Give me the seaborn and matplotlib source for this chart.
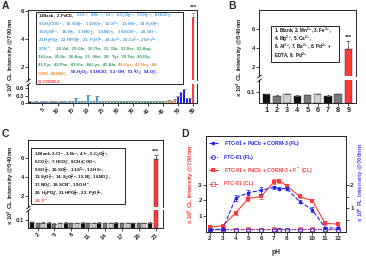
import matplotlib
matplotlib.use("Agg")
import matplotlib.pyplot as plt
import matplotlib.transforms as mtransforms
from matplotlib.patches import Rectangle
from matplotlib.lines import Line2D
import seaborn as sns
import pandas as pd
import numpy as np

sns.set_style("ticks")
plt.rcParams['font.family'] = ['Liberation Sans', 'DejaVu Sans']
plt.rcParams['font.weight'] = 'bold'
plt.rcParams['axes.labelweight'] = 'bold'
plt.rcParams['mathtext.fontset'] = 'custom'
plt.rcParams['mathtext.rm'] = 'Liberation Sans:bold'
plt.rcParams['mathtext.it'] = 'Liberation Sans:bold'
plt.rcParams['mathtext.bf'] = 'Liberation Sans:bold'
plt.rcParams['mathtext.default'] = 'rm'
plt.rcParams['axes.linewidth'] = 0.7
plt.rcParams['xtick.major.width'] = 0.6
plt.rcParams['ytick.major.width'] = 0.6
plt.rcParams['xtick.major.size'] = 2
plt.rcParams['ytick.major.size'] = 2
plt.rcParams['xtick.major.pad'] = 1
plt.rcParams['ytick.major.pad'] = 1

BLACK = '#111111'
DGRAY = '#555555'
MGRAY = '#7a7a7a'
LGRAY = '#cfcfcf'
LIGHT = '#3d9fe3'
GREEN = '#2a9e5a'
ORANGE = '#f28a2e'
BLUE = '#1f1ff0'
RED = '#ff3a3a'

# ---------------- data ----------------
# panel A: 55 analytes, x 10^3 CL intensity
a_values = [0.07, 0.06, 0.07, 0.06, 0.07, 0.07, 0.06, 0.07, 0.07, 0.06,
            0.07, 0.07, 0.06, 0.07, 0.07, 0.20, 0.07, 0.08, 0.07, 0.32,
            0.08, 0.07, 0.29, 0.08, 0.07, 0.08, 0.08, 0.09, 0.10, 0.10,
            0.09, 0.10, 0.10, 0.10, 0.09, 0.10, 0.10, 0.10, 0.09, 0.10,
            0.10, 0.10, 0.09, 0.10, 0.10, 0.08, 0.12, 0.10, 0.15, 0.29,
            0.45, 0.56, 0.21, 0.21, 5.55]
a_errors = [0.0] * 54 + [0.3]
a_groups = ['ctrl0', 'ctrl1'] + ['anion'] * 25 + ['amino'] * 18 + ['thiol'] * 4 + ['ros'] * 5 + ['corm']
a_ticks = [5, 10, 15, 20, 25, 30, 35, 40, 45, 50, 55]

# panel B: 9 metal ions
b_values = [0.078, 0.068, 0.078, 0.066, 0.072, 0.080, 0.068, 0.078, 3.85]
b_errors = [0.004, 0.004, 0.005, 0.003, 0.004, 0.005, 0.004, 0.004, 0.85]

# panel C: 23 anions
c_values = [0.070, 0.058, 0.064, 0.066, 0.055, 0.062, 0.064, 0.058, 0.060, 0.065,
            0.057, 0.062, 0.064, 0.058, 0.060, 0.065, 0.057, 0.060, 0.062, 0.058,
            0.061, 0.066, 5.9]
c_errors = [0.004] * 22 + [0.4]
c_ticks = [2, 5, 8, 11, 14, 17, 20, 23]

# panel D: pH profile
ph = [2, 3, 4, 5, 6, 7, 7.4, 8, 9, 10, 11, 12]
fl_probe = [0.10, 0.12, 1.43, 1.67, 1.77, 1.89, 1.84, 1.84, 1.29, 0.94, 0.18, 0.16]
fl_probe_err = [0.03, 0.03, 0.12, 0.12, 0.15, 0.08, 0.06, 0.06, 0.08, 0.10, 0.05, 0.05]
fl_blank = [0.08, 0.09, 0.10, 0.10, 0.10, 0.10, 0.10, 0.09, 0.10, 0.10, 0.10, 0.09]
cl_probe = [0.30, 0.40, 1.20, 2.12, 2.25, 3.18, 3.25, 2.93, 2.25, 1.98, 0.55, 0.50]
cl_probe_err = [0.05, 0.05, 0.10, 0.15, 0.15, 0.15, 0.12, 0.08, 0.10, 0.10, 0.12, 0.15]
cl_blank = [0.15, 0.16, 0.15, 0.16, 0.15, 0.16, 0.15, 0.15, 0.16, 0.18, 0.16, 0.15]

# legend texts
legend_a = [
    [("1.Blank,  2.PdCl$_2$,", BLACK),
     ("3.Cl$^-$,  4.Br$^-$,  5.I$^-$,  6.C$_2$O$_4^{2-}$,  7.CO$_3^{2-}$,  8.HCO$_3^-$,", LIGHT)],
    [("9.CH$_3$COO$^-$,  10.SO$_4^{2-}$,  11.SO$_3^-$,  12.S$^{2-}$,  13.HS$^-$,  14.S$_2$O$_3^{2-}$,", LIGHT)],
    [("15.S$_2$O$_7^{2-}$,   16.N$_3^-$,   17.NO$_2^-$,   18.NO$_3^-$,   19.SCN$^-$,   20.OH$^-$,", LIGHT)],
    [("21.H$_2$PO$_4^-$, 22.HPO$_4^{2-}$, 23. P$_2$O$_7^{4-}$, 24.Zn$^{2+}$, 25.Cu$^{2+}$, 26.Fe$^{2+}$,", LIGHT)],
    [("27.K$^+$,", LIGHT), ("  28.Val,  29.Gln,  30.Thr,  31. Glu,  32.Ser,  33.Asp,", GREEN)],
    [("34.Leu,  35.Ile,  36.Arg,  37.  Met,  38.  Tyr,  39.Trp,  40.Gly,", GREEN)],
    [("41.Pyr,  42.Phe,  43.His,  44.Lys,  45.Ala,", GREEN), ("46.Cys,  47.Hcy,  48.", ORANGE)],
    [("GSH,  49.NAC,", ORANGE), ("  50.H$_2$O$_2$,  51.HClO,  52.·OH,  53.$^1$O$_2$,  54.O$_2^-$,", BLUE)],
    [("55.CORM-3", RED)],
]
legend_b = [
    "1. Blank, 2. Mn$^{2+}$, 3. Fe$^{3+}$,",
    "4. Mg$^{2+}$, 5. Ca$^{2+}$,",
    "6. Al$^{3+}$, 7. Ba$^{2+}$, 8. Pd$^{2+}$ +",
    "EDTA, 9.  Pd$^{2+}$",
]
legend_c = [
    "1.Blank, 2.Cl$^-$, 3.Br$^-$, 4.I$^-$, 5.C$_2$O$_4^{2-}$,",
    "6.CO$_3^{2-}$, 7.HCO$_3^-$, 8.CH$_3$COO$^-$,",
    "9.SO$_4^{2-}$, 10.SO$_3^{2-}$, 11.S$^{2-}$, 12.HS$^-$,",
    "13.S$_2$O$_3^{2-}$, 14. S$_2$O$_7^{2-}$, 15.N$_3^-$, 16.NO$_2^-$,",
    "17.NO$_3^-$, 18.SCN$^-$, 19.OH$^-$,",
    "20. H$_2$PO$_4^-$, 21.HPO$_4^{2-}$, 22. P$_2$O$_7^{4-}$,",
    "23. F$^-$",
]

group_colors = {'ctrl0': BLACK, 'ctrl1': DGRAY, 'anion': LIGHT, 'amino': GREEN,
                'thiol': ORANGE, 'ros': BLUE, 'corm': RED}

W, H = 366, 257
fig = plt.figure(figsize=(W / 100, H / 100), dpi=100)


def rect(x0, y0, x1, y1):
    return [x0 / W, 1 - y1 / H, (x1 - x0) / W, (y1 - y0) / H]


def broken_bars(ax_top, ax_bot, values, errors, colors, edge, top_lim, bot_lim, xlim, err_color):
    ids = [str(i + 1) for i in range(len(values))]
    df = pd.DataFrame({'id': ids, 'value': values})
    pal = dict(zip(ids, colors))
    pos = np.arange(len(values))
    for ax in (ax_top, ax_bot):
        sns.barplot(data=df, x='id', y='value', hue='id', order=ids, hue_order=ids,
                    palette=pal, saturation=1, width=0.72, legend=False, errorbar=None,
                    edgecolor=edge, linewidth=0.3 if edge else 0, ax=ax)
        small = [e if e < 0.1 else 0 for e in errors]
        big = [e if e >= 0.1 else 0 for e in errors]
        ax.errorbar(pos, values, yerr=[np.zeros(len(pos)), small], fmt='none',
                    ecolor='k', elinewidth=0.4, capsize=0.8, capthick=0.4)
        ax.errorbar(pos, values, yerr=[np.zeros(len(pos)), big], fmt='none',
                    ecolor=err_color, elinewidth=0.6, capsize=1.2, capthick=0.6)
        ax.set_xlim(*xlim)
        ax.set_xlabel('')
        ax.set_ylabel('')
    ax_top.set_ylim(*top_lim)
    ax_bot.set_ylim(*bot_lim)
    ax_top.spines['bottom'].set_visible(False)
    ax_bot.spines['top'].set_visible(False)
    ax_top.tick_params(axis='x', bottom=False, labelbottom=False)
    kw = dict(marker=[(-1, -0.8), (1, 0.8)], markersize=3, linestyle='none',
              color='k', mec='k', mew=0.6, clip_on=False)
    ax_top.plot([0], [0], transform=ax_top.transAxes, **kw)
    ax_bot.plot([0], [1], transform=ax_bot.transAxes, **kw)


def text_lines(lines, x, y0, dy, fs):
    renderer = fig.canvas.get_renderer()
    for i, segs in enumerate(lines):
        if isinstance(segs, str):
            segs = [(segs, BLACK)]
        offset = 0.0
        for s, c in segs:
            tr = mtransforms.offset_copy(fig.transFigure, fig=fig, x=offset, y=0, units='dots')
            t = fig.text(x / W, 1 - (y0 + i * dy) / H, s, color=c, fontsize=fs,
                         fontweight='bold', va='baseline', ha='left', transform=tr)
            offset += t.get_window_extent(renderer=renderer).width + 1.3


def box(x0, y0, x1, y1):
    fig.add_artist(Rectangle((x0 / W, 1 - y1 / H), (x1 - x0) / W, (y1 - y0) / H,
                             transform=fig.transFigure, fill=False, lw=0.6, ec='k'))


# ---------------- panel A ----------------
ax_at = fig.add_axes(rect(28, 10, 197, 80))
ax_ab = fig.add_axes(rect(28, 84, 197, 103))
a_colors = [group_colors[g] for g in a_groups]
broken_bars(ax_at, ax_ab, a_values, a_errors, a_colors, None,
            (1.07, 6.07), (0, 0.76), (-0.8, 55.3), '#9a9a9a')
ax_at.set_yticks([2, 4, 6])
ax_ab.set_yticks([0, 0.3, 0.6])
ax_ab.set_yticklabels(['0', '0.3', '0.6'])
ax_ab.set_xticks([t - 1 for t in a_ticks])
ax_ab.set_xticklabels([str(t) for t in a_ticks], rotation=45, ha='right', rotation_mode='anchor')
for ax in (ax_at, ax_ab):
    ax.tick_params(labelsize=4.3)
ax_ab.tick_params(axis='x', labelsize=4.0)
ax_at.text(54, 6.1, '***', ha='center', va='bottom', fontsize=4.5, clip_on=False)
box(36, 12, 183, 84)
text_lines(legend_a, 38, 17.5, 8.15, 3.05)
fig.text(11 / W, 1 - 57 / H, 'x 10$^3$ CL Intensity @700nm', rotation=90,
         ha='center', va='center', fontsize=4.4)
fig.text(2 / W, 1 - 1 / H, 'A', fontsize=7.5, fontweight='bold', va='top', ha='left')

# ---------------- panel B ----------------
ax_bt = fig.add_axes(rect(259, 10, 356, 76))
ax_bb = fig.add_axes(rect(259, 80, 356, 103))
b_colors = [BLACK, MGRAY, LGRAY, BLACK, MGRAY, LGRAY, BLACK, MGRAY, RED]
broken_bars(ax_bt, ax_bb, b_values, b_errors, b_colors, '#222222',
            (1.05, 8.0), (0, 0.21), (-0.75, 8.75), '#555555')
ax_bt.set_yticks([2, 4, 6])
ax_bb.set_yticks([0.1])
ax_bb.set_yticklabels(['0.1'])
ax_bb.set_xticks(range(9))
ax_bb.set_xticklabels([str(i + 1) for i in range(9)])
ax_bt.tick_params(labelsize=4.3)
ax_bb.tick_params(axis='y', labelsize=4.3)
ax_bb.tick_params(axis='x', labelsize=5.2)
ax_bt.text(8, 4.85, '***', ha='center', va='bottom', fontsize=4.5)
box(271, 26, 339, 62)
text_lines(legend_b, 274, 33.0, 8.2, 3.3)
fig.text(240 / W, 1 - 57 / H, 'x 10$^3$ CL Intensity @540nm', rotation=90,
         ha='center', va='center', fontsize=4.4)
fig.text(228 / W, 1 - 1 / H, 'B', fontsize=7.5, fontweight='bold', va='top', ha='left')

# ---------------- panel C ----------------
ax_ct = fig.add_axes(rect(28, 140, 163, 207))
ax_cb = fig.add_axes(rect(28, 210, 163, 228))
c_colors = [[BLACK, MGRAY, LGRAY][i % 3] for i in range(22)] + [RED]
broken_bars(ax_ct, ax_cb, c_values, c_errors, c_colors, '#222222',
            (0.85, 7.9), (0, 0.22), (-0.7, 23.3), '#555555')
ax_ct.set_yticks([2, 4, 6])
ax_cb.set_yticks([0.1])
ax_cb.set_yticklabels(['0.1'])
ax_cb.set_xticks([t - 1 for t in c_ticks])
ax_cb.set_xticklabels([str(t) for t in c_ticks], rotation=45, ha='right', rotation_mode='anchor')
ax_ct.tick_params(labelsize=4.3)
ax_cb.tick_params(axis='y', labelsize=4.3)
ax_cb.tick_params(axis='x', labelsize=4.3)
ax_ct.text(22, 6.45, '***', ha='center', va='bottom', fontsize=4.5)
box(31, 148, 125, 204)
text_lines(legend_c[:-1] + [[(legend_c[-1], RED)]], 33.5, 156.2, 7.7, 3.2)
fig.text(11 / W, 1 - 185 / H, 'x 10$^3$ CL Intensity @540nm', rotation=90,
         ha='center', va='center', fontsize=4.4)
fig.text(2 / W, 1 - 129 / H, 'C', fontsize=7.5, fontweight='bold', va='top', ha='left')

# ---------------- panel D ----------------
ax_d = fig.add_axes(rect(206, 136, 346, 232))
ax_r = ax_d.twinx()
sns.lineplot(x=ph, y=cl_probe, ax=ax_d, color=RED, lw=0.8, marker='s', markersize=2.6,
             markeredgewidth=0)
ax_d.errorbar(ph, cl_probe, yerr=cl_probe_err, fmt='none', ecolor=RED, elinewidth=0.5,
              capsize=1.2, capthick=0.5)
sns.lineplot(x=ph, y=cl_blank, ax=ax_d, color=RED, lw=0.7, linestyle='--', marker='s',
             markersize=2.6, markerfacecolor='none', markeredgecolor=RED, markeredgewidth=0.5)
sns.lineplot(x=ph, y=fl_probe, ax=ax_r, color=BLUE, lw=0.8, linestyle='--', marker='o',
             markersize=2.6, markeredgewidth=0)
ax_r.errorbar(ph, fl_probe, yerr=fl_probe_err, fmt='none', ecolor=BLUE, elinewidth=0.5,
              capsize=1.2, capthick=0.5)
sns.lineplot(x=ph, y=fl_blank, ax=ax_r, color=BLUE, lw=0.7, linestyle=':', marker='o',
             markersize=2.8, markerfacecolor='none', markeredgecolor=BLUE, markeredgewidth=0.6)
ax_d.set_xlim(1.69, 12.63)
ax_d.set_ylim(0, 6.08)
ax_r.set_ylim(0, 4.07)
ax_d.set_xticks(range(2, 13))
ax_d.set_yticks([1, 2, 3])
ax_r.set_yticks([0.5, 1, 1.5, 2])
ax_r.set_yticklabels(['', '1', '', '2'])
ax_d.tick_params(labelsize=4.5)
ax_r.tick_params(labelsize=4.5)
ax_d.set_xlabel('')
ax_d.set_ylabel('')
ax_r.set_ylabel('')
handles = [
    Line2D([], [], color=BLUE, lw=0.8, linestyle='--', marker='o', markersize=2.6, markeredgewidth=0),
    Line2D([], [], color=BLUE, lw=0.7, linestyle=':', marker='o', markersize=2.8,
           markerfacecolor='none', markeredgewidth=0.6),
    Line2D([], [], color=RED, lw=0.8, marker='s', markersize=2.6, markeredgewidth=0),
    Line2D([], [], color=RED, lw=0.7, linestyle='--', marker='s', markersize=2.6,
           markerfacecolor='none', markeredgewidth=0.5),
]
labels_d = ['FTC-01 + PdCl$_2$ + CORM-3 (FL)', 'FTC-01 (FL)',
            'FTC-01 + PdCl$_2$ + CORM-3 + F$^-$ (CL)', 'FTC-01 (CL)']
ax_r.legend(handles, labels_d, loc='upper left', bbox_to_anchor=(0.0, 1.0), frameon=False,
            fontsize=3.7, labelcolor='linecolor', handlelength=1.7, handletextpad=1.2,
            labelspacing=1.25, borderaxespad=0.3, borderpad=0.3)
fig.text(276 / W, 1 - 252 / H, 'pH', ha='center', va='center', fontsize=4.8)
fig.text(191 / W, 1 - 184 / H, 'x 10$^3$ CL Intensity @700nm', rotation=90, color=RED,
         ha='center', va='center', fontsize=4.4)
fig.text(361 / W, 1 - 182 / H, 'x 10$^6$ FL Intensity @700nm', rotation=90, color='#4b4bff',
         ha='center', va='center', fontsize=4.4)
fig.text(181 / W, 1 - 129 / H, 'D', fontsize=7.5, fontweight='bold', va='top', ha='left')

fig.savefig('out.png', dpi=100)
